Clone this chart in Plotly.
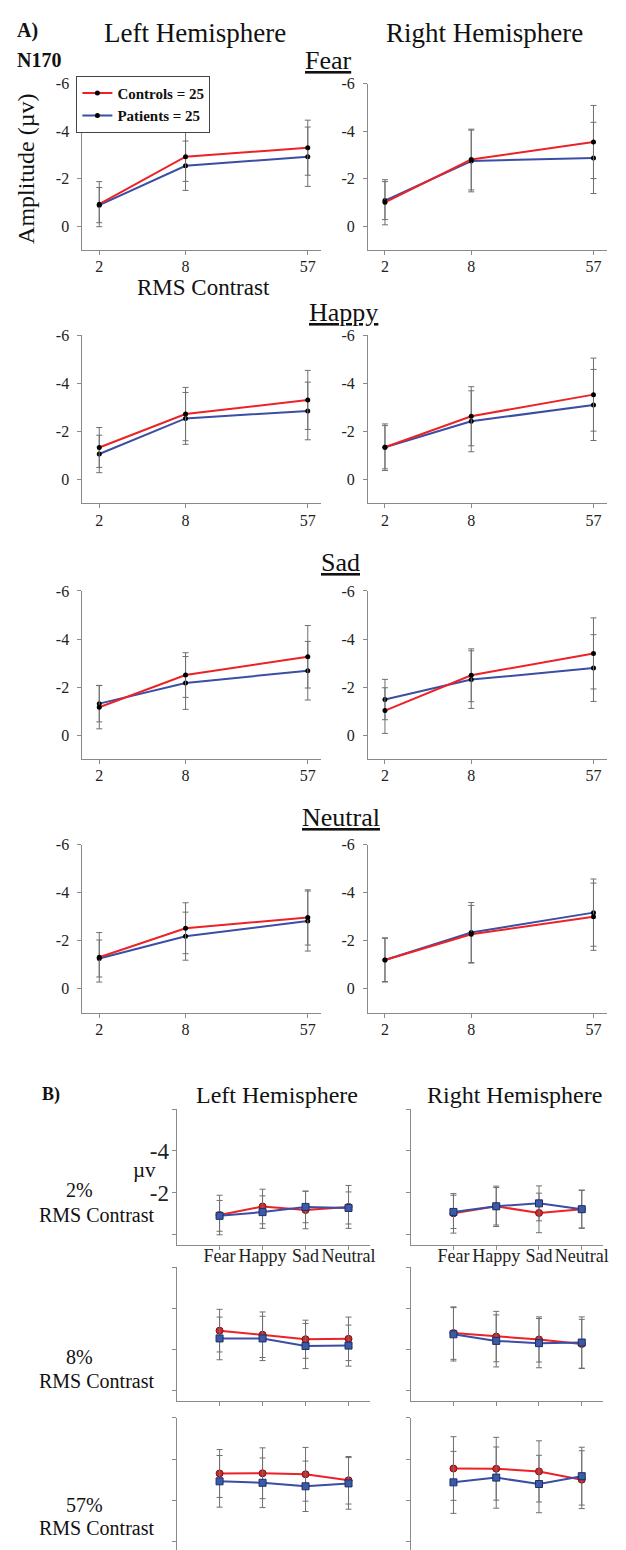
import math
import plotly.graph_objects as go

W, H = 626, 1550

# ---------------- data ----------------
emotions = ["Fear", "Happy", "Sad", "Neutral"]
contrasts = [2, 8, 57]
contrast_labels = ["2", "8", "57"]

# amplitudes (µV, N170 negative), per emotion over contrasts 2, 8, 57
controls_left = {
    "Fear": [-0.92, -2.92, -3.30],
    "Happy": [-1.33, -2.72, -3.31],
    "Sad": [-1.16, -2.50, -3.26],
    "Neutral": [-1.31, -2.52, -2.97],
}
patients_left = {
    "Fear": [-0.88, -2.54, -2.92],
    "Happy": [-1.06, -2.54, -2.85],
    "Sad": [-1.31, -2.17, -2.68],
    "Neutral": [-1.26, -2.19, -2.82],
}
controls_right = {
    "Fear": [-1.00, -2.80, -3.54],
    "Happy": [-1.34, -2.63, -3.53],
    "Sad": [-1.02, -2.49, -3.40],
    "Neutral": [-1.20, -2.27, -3.00],
}
patients_right = {
    "Fear": [-1.07, -2.74, -2.87],
    "Happy": [-1.34, -2.42, -3.10],
    "Sad": [-1.48, -2.31, -2.79],
    "Neutral": [-1.20, -2.34, -3.17],
}
# error bar half-lengths
controls_left_err = {
    "Fear": [0.95, 1.04, 1.16],
    "Happy": [0.83, 1.11, 1.23],
    "Sad": [0.90, 0.93, 1.30],
    "Neutral": [1.03, 1.06, 1.15],
}
patients_left_err = {
    "Fear": [0.74, 1.04, 1.25],
    "Happy": [0.78, 1.08, 1.20],
    "Sad": [0.76, 1.10, 1.22],
    "Neutral": [0.77, 1.00, 1.25],
}
controls_right_err = {
    "Fear": [0.95, 1.28, 1.54],
    "Happy": [0.97, 1.23, 1.52],
    "Sad": [0.95, 1.10, 1.48],
    "Neutral": [0.92, 1.20, 1.40],
}
patients_right_err = {
    "Fear": [0.80, 1.30, 1.50],
    "Happy": [0.90, 1.27, 1.48],
    "Sad": [0.84, 1.20, 1.39],
    "Neutral": [0.90, 1.25, 1.40],
}
y_ticks = [-6, -4, -2, 0]
y_ticklabels = ["-6", "-4", "-2", "0"]
b_ticklabels_first = ["", "-4", "-2", ""]

# ---------------- style ----------------
SERIF = "Liberation Serif, Times New Roman, serif"
RED = "#EC2227"
BLUE = "#3A4EA3"
AXIS = "#8a8a8a"
ERR = "#6f6f6f"


def xd(a, b):
    return [a / W, b / W]


def yd(top, bottom):
    return [max(0.0, 1 - bottom / H), 1 - top / H]


fig = go.Figure()
layout = {}
ax_i = [0]


def new_axes(xdom, ydom, xcfg, ycfg):
    ax_i[0] += 1
    i = ax_i[0]
    s = "" if i == 1 else str(i)
    base = dict(showgrid=False, zeroline=False, showline=True, linecolor=AXIS,
                linewidth=1, ticks="outside", tickcolor=AXIS, ticklen=4,
                tickfont=dict(family=SERIF, size=16, color="#222"))
    xa = dict(base, domain=xdom, anchor="y" + s)
    xa.update(xcfg)
    ya = dict(base, domain=ydom, anchor="x" + s)
    ya.update(ycfg)
    layout["xaxis" + s] = xa
    layout["yaxis" + s] = ya
    return "x" + s, "y" + s


# ---------------- section A ----------------
a_cols = [xd(83, 324), xd(371, 612)]
a_rows = [(76, 243), (329, 498), (586, 755), (841, 1010)]
xlog_range = [0.183, 1.851]

for r, emo in enumerate(emotions):
    for c in range(2):
        xa, ya = new_axes(
            a_cols[c], yd(*a_rows[r]),
            dict(type="log", range=xlog_range, tickvals=contrasts, ticktext=contrast_labels,
                 ticklabelstandoff=-2, tickangle=0),
            dict(range=[1, -6], tickvals=y_ticks, ticktext=y_ticklabels,
                 ticklabelstandoff=5),
        )
        if c == 0:
            cv, ce, pv, pe = controls_left[emo], controls_left_err[emo], patients_left[emo], patients_left_err[emo]
        else:
            cv, ce, pv, pe = controls_right[emo], controls_right_err[emo], patients_right[emo], patients_right_err[emo]
        show = (r == 0 and c == 0)
        fig.add_trace(go.Scatter(
            x=contrasts, y=pv, xaxis=xa, yaxis=ya, mode="lines+markers",
            name="<b>Patients = 25</b>", showlegend=show, legendrank=2,
            line=dict(color=BLUE, width=2), marker=dict(color="black", size=5),
            error_y=dict(type="data", array=pe, color=ERR, thickness=1, width=3)))
        fig.add_trace(go.Scatter(
            x=contrasts, y=cv, xaxis=xa, yaxis=ya, mode="lines+markers",
            name="<b>Controls = 25</b>", showlegend=show, legendrank=1,
            line=dict(color=RED, width=2), marker=dict(color="black", size=5),
            error_y=dict(type="data", array=ce, color=ERR, thickness=1, width=3)))

# ---------------- section B ----------------
b_cols = [xd(178, 373), xd(414, 608)]
b_rows = [(1107, 1243), (1266, 1400), (1417, 1552)]
emo_idx = list(range(len(emotions)))

for r in range(3):
    for c in range(2):
        top, bot = b_rows[r]
        ppu = (bot - top) / 6.5
        if bot > H:
            yr = [0.5 - (bot - H) / ppu, -6]
            bot = H
        else:
            yr = [0.5, -6]
        xcfg = dict(range=[-1, 3.5], tickvals=emo_idx,
                    ticktext=emotions if r == 0 else ["", "", "", ""],
                    tickfont=dict(family=SERIF, size=18, color="#222"),
                    ticklabelstandoff=-9, tickangle=0)
        if r == 2:
            xcfg.update(showline=False, ticks="", showticklabels=False)
        ycfg = dict(range=yr, tickvals=y_ticks,
                    ticktext=b_ticklabels_first if (r == 0 and c == 0) else ["", "", "", ""],
                    tickfont=dict(family=SERIF, size=23, color="#222"),
                    ticklabelstandoff=-2)
        xa, ya = new_axes(b_cols[c], yd(top, bot), xcfg, ycfg)
        if c == 0:
            cv = [controls_left[e][r] for e in emotions]
            ce = [controls_left_err[e][r] for e in emotions]
            pv = [patients_left[e][r] for e in emotions]
            pe = [patients_left_err[e][r] for e in emotions]
        else:
            cv = [controls_right[e][r] for e in emotions]
            ce = [controls_right_err[e][r] for e in emotions]
            pv = [patients_right[e][r] for e in emotions]
            pe = [patients_right_err[e][r] for e in emotions]
        fig.add_trace(go.Scatter(
            x=emo_idx, y=cv, xaxis=xa, yaxis=ya, mode="lines+markers", showlegend=False,
            line=dict(color=RED, width=2),
            marker=dict(symbol="circle", color="#D8232A", size=7, line=dict(color="#7a1515", width=1)),
            error_y=dict(type="data", array=ce, color=ERR, thickness=1, width=3)))
        fig.add_trace(go.Scatter(
            x=emo_idx, y=pv, xaxis=xa, yaxis=ya, mode="lines+markers", showlegend=False,
            line=dict(color=BLUE, width=2),
            marker=dict(symbol="square", color="#3B5BA8", size=7, line=dict(color="#1d2f66", width=1)),
            error_y=dict(type="data", array=pe, color=ERR, thickness=1, width=3)))

# ---------------- annotations ----------------
ann = []


def text(t, x, y, size, xanchor="center", angle=0):
    ann.append(dict(text=t, x=x / W, y=1 - y / H, xref="paper", yref="paper",
                    xanchor=xanchor, yanchor="middle", showarrow=False, textangle=angle,
                    font=dict(family=SERIF, size=size, color="#111")))


text("<b>A)</b>", 15, 23, 20, "left")
text("Left Hemisphere", 197, 25, 27)
text("Right Hemisphere", 488, 25, 27)
text("<b>N170</b>", 15, 52, 20, "left")
text("<u>Fear</u>", 331, 53, 26)
text("<u>Happy</u>", 346, 306, 26)
text("<u>Sad</u>", 343, 557, 26)
text("<u>Neutral</u>", 344, 814, 26)
text("Amplitude (µv)", 26, 162, 24, angle=-90)
text("RMS Contrast", 205, 281, 23)

text("<b>B)</b>", 40, 1092, 18, "left")
text("Left Hemisphere", 279, 1093, 24)
text("Right Hemisphere", 519, 1093, 24)
text("µv", 146, 1168, 21)
text("2%", 80, 1188, 20)
text("RMS Contrast", 97, 1213, 20)
text("8%", 80, 1356, 20)
text("RMS Contrast", 97, 1380, 20)
text("57%", 85, 1505, 20)
text("RMS Contrast", 97, 1528, 20)

layout.update(
    width=W, height=H, margin=dict(l=0, r=0, t=0, b=0),
    paper_bgcolor="white", plot_bgcolor="white",
    annotations=ann,
    legend=dict(x=77 / W, y=1 - 68 / H, xanchor="left", yanchor="top",
                bgcolor="white", bordercolor="#444", borderwidth=1,
                font=dict(family=SERIF, size=15, color="#111"),
                tracegroupgap=0, itemwidth=30),
)
fig.update_layout(**layout)
fig.write_html("out.html")
